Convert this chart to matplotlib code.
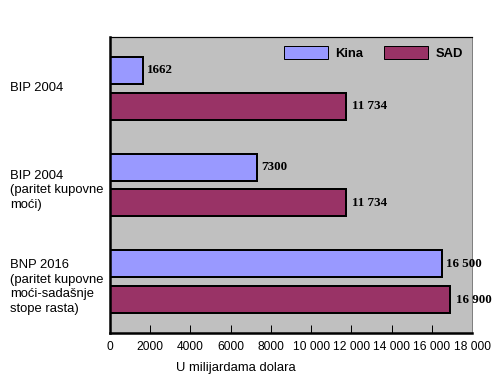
import matplotlib
matplotlib.use("Agg")
import matplotlib.pyplot as plt
import matplotlib.transforms as mtransforms
from matplotlib.patches import Patch
import numpy as np

# podaci
categories = ["BIP 2004", "BIP 2004\n(paritet kupovne\nmoći)",
              "BNP 2016\n(paritet kupovne\nmoći-sadašnje\nstope rasta)"]
kina = [1662, 7300, 16500]
sad = [11734, 11734, 16900]
kina_labels = ["1662", "7300", "16 500"]
sad_labels = ["11 734", "11 734", "16 900"]
xticks = [0, 2000, 4000, 6000, 8000, 10000, 12000, 14000, 16000, 18000]
xtick_labels = ["0", "2000", "4000", "6000", "8000", "10 000", "12 000",
                "14 000", "16 000", "18 000"]

c_kina = "#9999FF"
c_sad = "#993366"
sans = ["Liberation Sans", "DejaVu Sans"]
serif = ["Liberation Serif", "DejaVu Serif"]

fig = plt.figure(figsize=(7, 5.25), dpi=72)
ax = fig.add_axes([110 / 504, 45 / 378, 362 / 504, 296 / 378])
ax.set_facecolor("#C0C0C0")

y = np.arange(len(categories))
off = 0.185
h = 0.28
ax.barh(y - off, kina, height=h, color=c_kina, edgecolor="black", linewidth=2)
ax.barh(y + off, sad, height=h, color=c_sad, edgecolor="black", linewidth=2)

for i in range(len(categories)):
    ax.annotate(kina_labels[i], (kina[i], y[i] - off), xytext=(4, 0),
                textcoords="offset points", va="center", ha="left",
                fontsize=13, fontweight="bold", family=serif)
    ax.annotate(sad_labels[i], (sad[i], y[i] + off), xytext=(6, 0),
                textcoords="offset points", va="center", ha="left",
                fontsize=13, fontweight="bold", family=serif)

ax.set_xlim(0, 18000)
ax.set_ylim(2.53, -0.53)
ax.set_yticks([])
ax.set_xticks(xticks)
ax.set_xticklabels(xtick_labels, family=sans, fontsize=12)
ax.tick_params(axis="x", direction="in", length=8, width=1, pad=8)

# oznake kategorija lijevo
trans = mtransforms.blended_transform_factory(fig.transFigure, ax.transData)
for i, cat in enumerate(categories):
    shift = 0.055 if "\n" in cat else 0
    ax.text(10 / 504, y[i] + shift, cat, transform=trans, ha="left",
            va="center", fontsize=13, family=sans, linespacing=1.3)

fig.text(176 / 504, 1 - 368 / 378, "U milijardama dolara", ha="left",
         va="center", fontsize=13, family=sans)

for s in ["left", "bottom"]:
    ax.spines[s].set_linewidth(2.5)
    ax.spines[s].set_color("black")
ax.spines["top"].set_linewidth(1.2)
ax.spines["top"].set_color("black")
ax.spines["right"].set_linewidth(1)
ax.spines["right"].set_color("#808080")

handles = [Patch(facecolor=c_kina, edgecolor="black", linewidth=1, label="Kina"),
           Patch(facecolor=c_sad, edgecolor="black", linewidth=1, label="SAD")]
ax.legend(handles=handles, ncol=2, loc="upper right", frameon=False,
          bbox_to_anchor=(1.0, 1.0),
          prop={"family": sans, "weight": "bold", "size": 13},
          handlelength=3.4, handleheight=1.2, handletextpad=0.55,
          columnspacing=1.6, borderaxespad=0.3)

fig.savefig("out.png", dpi=72)
